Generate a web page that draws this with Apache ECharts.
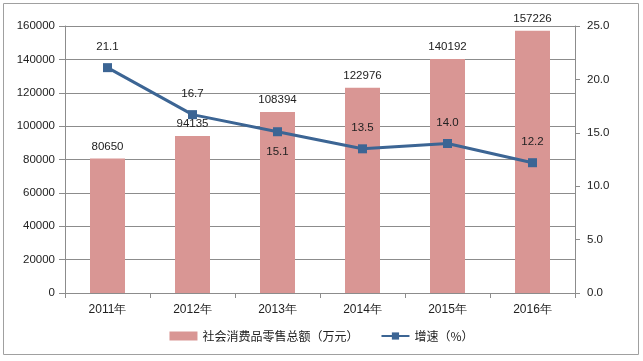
<!DOCTYPE html>
<html><head><meta charset="utf-8">
<script src="https://cdn.jsdelivr.net/npm/echarts@6/dist/echarts.min.js"></script>
<style>html,body{margin:0;padding:0;background:#fff}#c{width:643px;height:361px}</style>
</head><body><div id="c"></div>
<script>
var categories = ['2011年','2012年','2013年','2014年','2015年','2016年'];
var salesValues = [80650, 94135, 108394, 122976, 140192, 157226];
var growthValues = [21.1, 16.7, 15.1, 13.5, 14.0, 12.2];
var salesName = '社会消费品零售总额（万元）';
var growthName = '增速（%）';
var growthLabelPos = ['top','top','bottom','top','top','top'];

var font = '"Liberation Sans", Arial, sans-serif';
var chart = echarts.init(document.getElementById('c'));
chart.setOption({
  animation: false,
  textStyle: {fontFamily: font},
  graphic: [{type:'rect', shape:{x:3.5,y:3.5,width:635,height:351}, style:{fill:'none', stroke:'#a0a0a0', lineWidth:1}, silent:true}],
  grid: {left: 65, right: 68, top: 26, bottom: 68},
  legend: {
    bottom: 14, left: 'center', itemGap: 22,
    textStyle: {fontFamily: '"Noto Sans CJK SC", sans-serif', fontSize: 12, color: '#222'},
    data: [
      {name: salesName, icon: 'rect', itemStyle:{color:'#d99694'}},
      {name: growthName}
    ],
    itemWidth: 28, itemHeight: 9
  },
  xAxis: {
    type: 'category', data: categories,
    axisLine: {lineStyle: {color: '#8c8c8c'}},
    axisTick: {show: true, length: 5, lineStyle: {color: '#8c8c8c'}},
    axisLabel: {color: '#222', fontSize: 12, margin: 11, fontFamily: font}
  },
  yAxis: [{
    type: 'value', min: 0, max: 160000, interval: 20000,
    axisLine: {show: true, lineStyle: {color: '#8c8c8c'}},
    axisTick: {show: true, length: 6, lineStyle: {color: '#8c8c8c'}},
    axisLabel: {color: '#222', fontSize: 11.5, margin: 10, fontFamily: font, formatter: function(v){return String(v);}},
    splitLine: {lineStyle: {color: '#8c8c8c'}}
  }, {
    type: 'value', min: 0, max: 25, interval: 5,
    axisLine: {show: true, lineStyle: {color: '#8c8c8c'}},
    axisTick: {show: true, length: 5, lineStyle: {color: '#8c8c8c'}},
    axisLabel: {color: '#222', fontSize: 11.5, margin: 12, fontFamily: font, formatter: function(v){return v.toFixed(1);}},
    splitLine: {show: false}
  }],
  series: [{
    name: salesName, type: 'bar', data: salesValues, barWidth: 35,
    itemStyle: {color: '#d99694'},
    label: {show: true, position: 'top', distance: 6, color: '#222', fontSize: 11.5, fontFamily: font}
  }, {
    name: growthName, type: 'line', yAxisIndex: 1,
    data: growthValues.map(function(v,i){return {value: v, label: {position: growthLabelPos[i]}};}),
    symbol: 'rect', symbolSize: 9,
    lineStyle: {color: '#3c6594', width: 3},
    itemStyle: {color: '#3c6594'},
    label: {show: true, distance: 10, color: '#222', fontSize: 11.5, fontFamily: font, formatter: function(p){return p.value.toFixed(1);}},
    z: 5
  }]
});
</script></body></html>
